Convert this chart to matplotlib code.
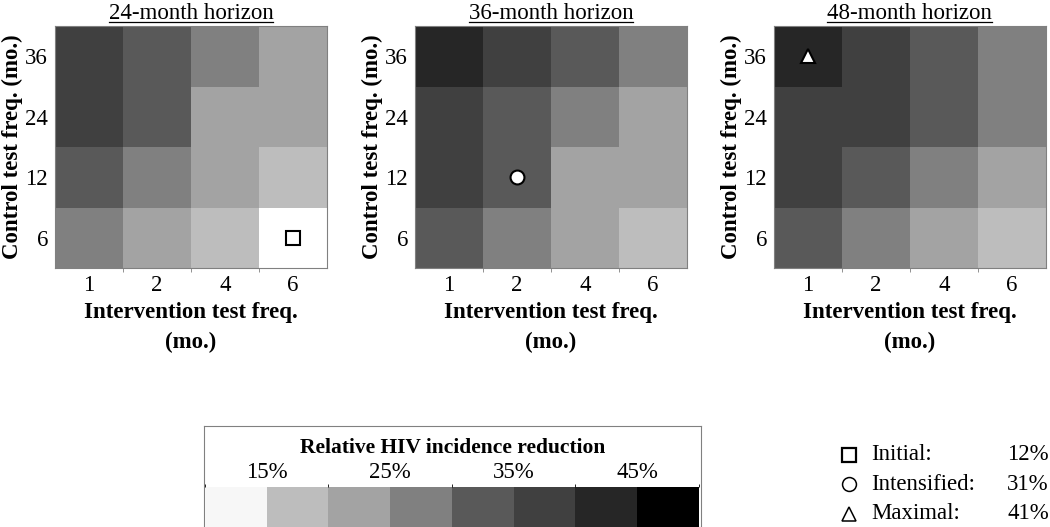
import numpy as np
import matplotlib.pyplot as plt
from matplotlib.colors import ListedColormap, BoundaryNorm
from matplotlib.cm import ScalarMappable
from matplotlib.lines import Line2D

plt.rcParams['font.family'] = ['Liberation Serif', 'DejaVu Serif']

# data: relative HIV incidence reduction (%), rows = control freq (36, 24, 12, 6), cols = intervention freq
intervention_freq = ['1', '2', '4', '6']
control_freq = ['36', '24', '12', '6']
horizons = ['24-month horizon', '36-month horizon', '48-month horizon']

red_24 = [[37, 32, 27, 22],
          [37, 32, 22, 22],
          [32, 27, 22, 17],
          [27, 22, 17, 12]]
red_36 = [[42, 37, 32, 27],
          [37, 32, 27, 22],
          [37, 31, 22, 22],
          [32, 27, 22, 17]]
red_48 = [[41, 37, 32, 27],
          [37, 37, 32, 27],
          [37, 32, 27, 22],
          [32, 27, 22, 17]]

bin_edges = [10, 15, 20, 25, 30, 35, 40, 45, 50]
bin_colors = ['#f7f7f7', '#bdbdbd', '#a3a3a3', '#808080',
              '#595959', '#404040', '#262626', '#000000']
cbar_ticks = [15, 25, 35, 45]

# highlighted scenarios
scen_names = ['Initial:', 'Intensified:', 'Maximal:']
scen_values = ['12%', '31%', '41%']
scen_markers = ['s', 'o', '^']
scen_panel = [0, 1, 2]
scen_x = ['6', '2', '1']
scen_y = ['6', '12', '36']

cmap = ListedColormap(bin_colors)
norm = BoundaryNorm(bin_edges, cmap.N)
FS = 16.5

fig = plt.figure(figsize=(10.5, 5.27), dpi=100)
panel_left = [0.0524, 0.3952, 0.737]
axes = []
for i, (data, title) in enumerate(zip([red_24, red_36, red_48], horizons)):
    ax = fig.add_axes([panel_left[i], 0.4915, 0.259, 0.459])
    grid = np.array(data, dtype=float)[::-1]  # bottom row first
    ax.pcolormesh(np.arange(5), np.arange(5), grid, cmap=cmap, norm=norm)
    if i == 0:
        # the initial scenario cell is drawn pure white in the original
        ax.pcolormesh([3, 4], [0, 1], [[1]], cmap=ListedColormap(['white']))
    ax.set_xlim(0, 4)
    ax.set_ylim(0, 4)
    ax.set_xticks(np.arange(4) + 0.5)
    ax.set_xticklabels(intervention_freq)
    ax.set_yticks(np.arange(4) + 0.5)
    ax.set_yticklabels(control_freq[::-1])
    ax.set_xticks([1, 2, 3], minor=True)
    ax.tick_params(which='major', length=0, labelsize=FS, pad=5)
    ax.tick_params(which='minor', axis='x', length=3, color='#808080')
    for s in ax.spines.values():
        s.set_color('#808080')
        s.set_linewidth(0.8)
    ax.set_xlabel('Intervention test freq.\n(mo.)', fontsize=FS, fontweight='bold',
                  linespacing=1.55)
    ax.xaxis.set_label_coords(0.5, -0.14, transform=ax.transAxes)
    ax.xaxis.label.set_va('top')
    ax.set_ylabel('Control test freq. (mo.)', fontsize=FS, fontweight='bold')
    ax.yaxis.set_label_coords(-0.155, 0.5)
    ax.yaxis.label.set_va('center')
    ax.set_title(title, fontsize=FS, pad=5)
    axes.append(ax)

for p, xl, yl, m in zip(scen_panel, scen_x, scen_y, scen_markers):
    ax = axes[p]
    xi = intervention_freq.index(xl) + 0.5
    yi = control_freq[::-1].index(yl) + 0.5
    fc = 'white' if m != 's' else 'none'
    ax.plot(xi, yi, marker=m, markersize=10, markerfacecolor=fc,
            markeredgecolor='black', markeredgewidth=1.5, linestyle='none')

# underline titles just below the baseline
fig.canvas.draw()
rend = fig.canvas.get_renderer()
for ax in axes:
    bb = ax.title.get_window_extent(rend).transformed(fig.transFigure.inverted())
    y = bb.y0 + 0.005
    fig.add_artist(Line2D([bb.x0, bb.x1], [y, y], color='black', lw=0.9,
                          transform=fig.transFigure))

# colorbar box
box = fig.add_axes([0.1943, 0.0, 0.4733, 0.1917])
box.set_xticks([])
box.set_yticks([])
for s in box.spines.values():
    s.set_color('#808080')
    s.set_linewidth(0.8)
box.text(0.5, 0.78, 'Relative HIV incidence reduction', transform=box.transAxes,
         ha='center', va='center', fontsize=15.5, fontweight='bold')

cax = fig.add_axes([0.1952, 0.0, 0.4705, 0.0759])
cb = fig.colorbar(ScalarMappable(norm=norm, cmap=cmap), cax=cax,
                  orientation='horizontal', ticks=cbar_ticks)
cb.ax.set_xticklabels([f'{t}%' for t in cbar_ticks])
cb.ax.xaxis.set_ticks_position('top')
cb.ax.tick_params(length=0, labelsize=FS, pad=3)
cb.outline.set_visible(False)

# scenario legend
leg = fig.add_axes([0.795, 0.0, 0.205, 0.18])
leg.set_xlim(0, 1)
leg.set_ylim(0, 1)
leg.axis('off')
for k, (nm, val, m) in enumerate(zip(scen_names, scen_values, scen_markers)):
    y = 0.76 - k * 0.31
    lw = 1.6 if m == 's' else 1.1
    leg.plot(0.065, y, marker=m, markersize=10, markerfacecolor='white',
             markeredgecolor='black', markeredgewidth=lw, linestyle='none')
    leg.text(0.17, y, nm, fontsize=FS, va='center', ha='left')
    leg.text(0.995, y, val, fontsize=FS, va='center', ha='right')

fig.savefig('out.png', dpi=100)
